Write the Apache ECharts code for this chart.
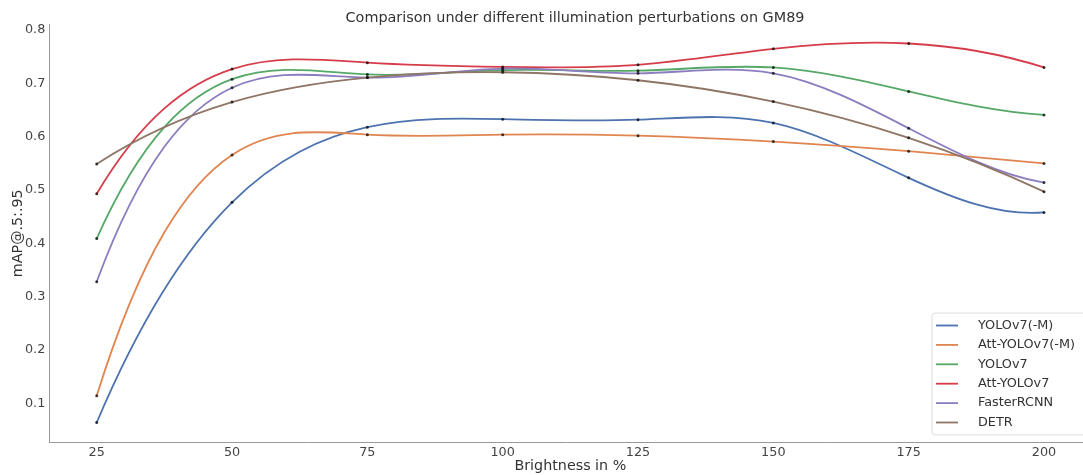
<!DOCTYPE html>
<html>
<head>
<meta charset="utf-8">
<script src="https://cdn.jsdelivr.net/npm/echarts@6/dist/echarts.min.js"></script>
<style>html,body{margin:0;padding:0;background:#fff;}#c{width:1083px;height:475px;}</style>
</head>
<body>
<div id="c"></div>
<script>
const brightness = [25, 50, 75, 100, 125, 150, 175, 200];
const seriesNames = ['YOLOv7(-M)', 'Att-YOLOv7(-M)', 'YOLOv7', 'Att-YOLOv7', 'FasterRCNN', 'DETR'];
const yolov7M    = [0.064, 0.477, 0.618, 0.633, 0.632, 0.626, 0.523, 0.458];
const attYolov7M = [0.114, 0.566, 0.604, 0.604, 0.602, 0.591, 0.573, 0.550];
const yolov7     = [0.409, 0.708, 0.717, 0.725, 0.724, 0.730, 0.685, 0.641];
const attYolov7  = [0.493, 0.727, 0.739, 0.731, 0.735, 0.765, 0.775, 0.730];
const fasterRCNN = [0.328, 0.692, 0.711, 0.728, 0.719, 0.719, 0.616, 0.514];
const detr       = [0.549, 0.665, 0.711, 0.721, 0.706, 0.666, 0.598, 0.497];
const xTicks = [25, 50, 75, 100, 125, 150, 175, 200];
const yTicks = [0.1, 0.2, 0.3, 0.4, 0.5, 0.6, 0.7, 0.8];

const allValues = [yolov7M, attYolov7M, yolov7, attYolov7, fasterRCNN, detr];
const colors = ['#4c72b0', '#e0854f', '#55a868', '#d63c4a', '#8c7cc0', '#8f7565'];
const FONT = 'DejaVu Sans';

// Slopes of a not-a-knot cubic spline through the data points (used only to
// shape the Bezier curve drawn between consecutive real data points).
function splineSlopes(xs, ys) {
  const n = xs.length;
  const A = [], b = [];
  for (let i = 0; i < n; i++) { A.push(new Array(n).fill(0)); b.push(0); }
  const h = i => xs[i + 1] - xs[i];
  A[0][0] = h(1); A[0][1] = -(h(0) + h(1)); A[0][2] = h(0); b[0] = 0;
  for (let i = 1; i < n - 1; i++) {
    A[i][i - 1] = h(i - 1);
    A[i][i] = 2 * (h(i - 1) + h(i));
    A[i][i + 1] = h(i);
    b[i] = 6 * ((ys[i + 1] - ys[i]) / h(i) - (ys[i] - ys[i - 1]) / h(i - 1));
  }
  A[n - 1][n - 3] = h(n - 2); A[n - 1][n - 2] = -(h(n - 3) + h(n - 2)); A[n - 1][n - 1] = h(n - 3); b[n - 1] = 0;
  for (let c = 0; c < n; c++) {
    let p = c;
    for (let r = c + 1; r < n; r++) if (Math.abs(A[r][c]) > Math.abs(A[p][c])) p = r;
    [A[c], A[p]] = [A[p], A[c]]; [b[c], b[p]] = [b[p], b[c]];
    for (let r = c + 1; r < n; r++) {
      const f = A[r][c] / A[c][c];
      if (!f) continue;
      for (let k = c; k < n; k++) A[r][k] -= f * A[c][k];
      b[r] -= f * b[c];
    }
  }
  const M = new Array(n).fill(0);
  for (let r = n - 1; r >= 0; r--) {
    let s = b[r];
    for (let k = r + 1; k < n; k++) s -= A[r][k] * M[k];
    M[r] = s / A[r][r];
  }
  const d = [];
  for (let i = 0; i < n - 1; i++) {
    d.push((ys[i + 1] - ys[i]) / h(i) - h(i) * (2 * M[i] + M[i + 1]) / 6);
  }
  d.push((ys[n - 1] - ys[n - 2]) / h(n - 2) + h(n - 2) * (M[n - 2] + 2 * M[n - 1]) / 6);
  return d;
}

const series = [];
allValues.forEach((vals, si) => {
  const slopes = splineSlopes(brightness, vals);
  series.push({
    name: seriesNames[si],
    type: 'custom',
    coordinateSystem: 'cartesian2d',
    data: brightness.map((x, k) => [x, vals[k]]),
    encode: { x: 0, y: 1 },
    itemStyle: { color: colors[si] },
    z: 2,
    silent: true,
    renderItem: function (params, api) {
      const i = params.dataIndex;
      if (i >= brightness.length - 1) return null;
      const x0 = brightness[i], x1 = brightness[i + 1];
      const y0 = vals[i], y1 = vals[i + 1];
      const hh = (x1 - x0) / 3;
      const p0 = api.coord([x0, y0]);
      const p3 = api.coord([x1, y1]);
      const p1 = api.coord([x0 + hh, y0 + hh * slopes[i]]);
      const p2 = api.coord([x1 - hh, y1 - hh * slopes[i + 1]]);
      return {
        type: 'bezierCurve',
        shape: { x1: p0[0], y1: p0[1], cpx1: p1[0], cpy1: p1[1], cpx2: p2[0], cpy2: p2[1], x2: p3[0], y2: p3[1] },
        style: { stroke: colors[si], lineWidth: 1.8, fill: null, lineCap: 'round' }
      };
    }
  });
});
allValues.forEach((vals, i) => {
  series.push({
    name: 'pts' + i,
    type: 'scatter',
    symbol: 'circle',
    symbolSize: 3,
    data: brightness.map((x, k) => [x, vals[k]]),
    itemStyle: { color: '#111' },
    z: 5,
    silent: true
  });
});

const chart = echarts.init(document.getElementById('c'), null, { renderer: 'canvas' });
chart.setOption({
  animation: false,
  backgroundColor: '#ffffff',
  textStyle: { fontFamily: FONT },
  title: {
    text: 'Comparison under different illumination perturbations on GM89',
    left: 570,
    textAlign: 'center',
    top: 6,
    textStyle: { fontFamily: FONT, fontSize: 14.4, fontWeight: 'normal', color: '#333' }
  },
  grid: { left: 49.3, right: -8.4, top: 24.5, bottom: 33, containLabel: false, outerBoundsMode: 'none' },
  xAxis: {
    type: 'value',
    min: 16.24,
    max: 208.76,
    name: 'Brightness in %',
    nameLocation: 'middle',
    nameGap: 17,
    nameMoveOverlap: false,
    nameTextStyle: { fontFamily: FONT, fontSize: 14.3, color: '#333' },
    axisLine: { show: true, lineStyle: { color: '#999', width: 1 } },
    axisTick: { show: false },
    splitLine: { show: false },
    axisLabel: {
      customValues: xTicks,
      fontFamily: FONT, fontSize: 12.8, color: '#444', margin: 4
    }
  },
  yAxis: {
    type: 'value',
    min: 0.0274,
    max: 0.8106,
    name: 'mAP@.5:.95',
    nameLocation: 'middle',
    nameRotate: 90,
    nameGap: 24,
    nameMoveOverlap: false,
    nameTextStyle: { fontFamily: FONT, fontSize: 14.3, color: '#333' },
    axisLine: { show: true, lineStyle: { color: '#999', width: 1 } },
    axisTick: { show: false },
    splitLine: { show: false },
    axisLabel: {
      customValues: yTicks,
      formatter: v => v.toFixed(1),
      fontFamily: FONT, fontSize: 12.8, color: '#444', margin: 4
    }
  },
  legend: {
    data: seriesNames,
    orient: 'vertical',
    left: 932,
    top: 313,
    padding: [6, 40, 6, 4],
    icon: 'rect',
    itemWidth: 22,
    itemHeight: 1.8,
    itemGap: 6.4,
    backgroundColor: 'rgba(255,255,255,0.85)',
    borderColor: '#dddddd',
    borderWidth: 1,
    borderRadius: 3,
    textStyle: { fontFamily: FONT, fontSize: 12.8, color: '#333', padding: [0, 0, 0, 15] }
  },
  series: series
});
</script>
</body>
</html>
